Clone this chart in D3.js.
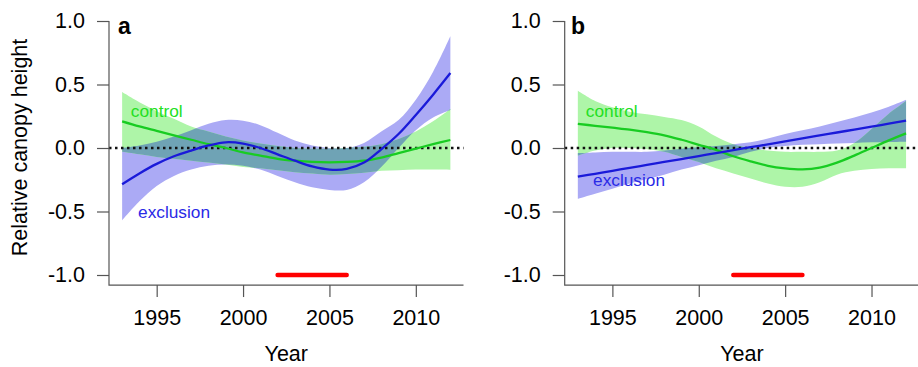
<!DOCTYPE html>
<html><head><meta charset="utf-8">
<script src="https://cdn.jsdelivr.net/npm/d3@7/dist/d3.min.js"></script>
<style>
body{margin:0;background:#fff}
svg{display:block}
text{font-family:"Liberation Sans",Arial,Helvetica,sans-serif}
</style>
</head><body>
<svg id="chart" width="918" height="367"></svg>
<script>
// ---------- data ----------
const years = [1993,1994,1995,1996,1997,1998,1999,2000,2001,2002,2003,2004,2005,2006,2007,2008,2009,2010,2011,2012];

// panel a
const aControl      = [0.21,0.17,0.135,0.10,0.065,0.03,0.0,-0.035,-0.06,-0.085,-0.10,-0.11,-0.113,-0.11,-0.10,-0.075,-0.04,-0.005,0.03,0.063];
const aControlUpper = [0.44,0.36,0.29,0.23,0.17,0.13,0.09,0.06,0.035,0.015,0.0,-0.005,-0.005,0.0,0.01,0.03,0.07,0.13,0.21,0.307];
const aControlLower = [-0.03,-0.05,-0.07,-0.085,-0.10,-0.115,-0.13,-0.15,-0.16,-0.175,-0.19,-0.2,-0.21,-0.205,-0.195,-0.18,-0.175,-0.17,-0.17,-0.173];
const aExcl         = [-0.285,-0.20,-0.125,-0.065,-0.02,0.02,0.045,0.035,0.0,-0.05,-0.10,-0.145,-0.17,-0.165,-0.115,-0.01,0.11,0.26,0.42,0.59];
const aExclUpper    = [0.0,0.02,0.05,0.09,0.14,0.19,0.22,0.215,0.18,0.12,0.06,0.02,0.0,0.0,0.04,0.13,0.22,0.38,0.6,0.88];
const aExclLower    = [-0.57,-0.42,-0.30,-0.22,-0.17,-0.14,-0.13,-0.14,-0.17,-0.22,-0.27,-0.31,-0.33,-0.33,-0.27,-0.15,0.0,0.14,0.24,0.30];

// panel b
const bControl      = [0.19,0.175,0.16,0.145,0.125,0.10,0.065,0.025,-0.015,-0.065,-0.105,-0.14,-0.16,-0.168,-0.155,-0.115,-0.06,0.0,0.06,0.115];
const bControlUpper = [0.45,0.37,0.32,0.285,0.265,0.245,0.22,0.17,0.09,0.03,0.0,-0.02,-0.03,-0.03,-0.03,-0.02,0.04,0.15,0.27,0.37];
const bControlLower = [-0.06,-0.02,0.0,0.0,-0.01,-0.03,-0.07,-0.11,-0.16,-0.2,-0.24,-0.28,-0.305,-0.305,-0.27,-0.21,-0.18,-0.165,-0.16,-0.16];
const bExcl         = [-0.226,-0.203,-0.18,-0.156,-0.133,-0.11,-0.087,-0.064,-0.04,-0.017,0.006,0.029,0.052,0.076,0.099,0.122,0.145,0.168,0.192,0.215];
const bExclUpper    = [-0.04,-0.035,-0.03,-0.03,-0.03,-0.02,-0.005,0.005,0.015,0.03,0.045,0.075,0.11,0.14,0.17,0.205,0.24,0.28,0.325,0.38];
const bExclLower    = [-0.40,-0.36,-0.32,-0.28,-0.245,-0.21,-0.17,-0.135,-0.10,-0.07,-0.03,0.0,0.015,0.025,0.03,0.035,0.04,0.045,0.048,0.05];

const yTicks = [-1.0,-0.5,0.0,0.5,1.0];
const xTicks = [1995,2000,2005,2010];
const treatmentPeriod = [2002, 2006];
const panelLabels = ["a","b"];
const seriesNames = ["control","exclusion"];

// ---------- drawing ----------
const svg = d3.select("#chart");
const C = {
  greenLine:"#18cc22", greenText:"#22e022", greenBand:"#aef5a8",
  blueLine:"#1a1ad9", blueText:"#2a2ae6", blueBand:"#abaaf5",
  overlap:"#6fa3b5", axis:"#555"
};
const FONT = 21.5;

const panels = [
  {label:panelLabels[0], x0:109, x1:463.5,
   ctl:aControl, ctlU:aControlUpper, ctlL:aControlLower,
   exc:aExcl, excU:aExclUpper, excL:aExclLower,
   ctlLab:[1993.5,0.244], excLab:[1993.92,-0.551], labX:118},
  {label:panelLabels[1], x0:564.7, x1:919.2,
   ctl:bControl, ctlU:bControlUpper, ctlL:bControlLower,
   exc:bExcl, excU:bExclUpper, excL:bExclLower,
   ctlLab:[1993.46,0.244], excLab:[1993.88,-0.30], labX:571}
];

const y = d3.scaleLinear().domain([-1,1]).range([275,21]);
const yBottom = y(-1.079);

panels.forEach((p,pi)=>{
  const x = d3.scaleLinear().domain([1992.24,2012.76]).range([p.x0,p.x1]);
  const g = svg.append("g");
  const area = (U,L)=>d3.area().x((d,i)=>x(years[i])).y0((d,i)=>y(L[i])).y1((d,i)=>y(U[i])).curve(d3.curveCatmullRom)(years);
  const line = (V)=>d3.line().x((d,i)=>x(years[i])).y((d,i)=>y(V[i])).curve(d3.curveCatmullRom)(years);

  const clipId = "clipG"+pi;
  svg.append("clipPath").attr("id",clipId).append("path").attr("d",area(p.ctlU,p.ctlL));

  g.append("path").attr("d",area(p.excU,p.excL)).attr("fill",C.blueBand);
  g.append("path").attr("d",area(p.ctlU,p.ctlL)).attr("fill",C.greenBand);
  g.append("path").attr("d",area(p.excU,p.excL)).attr("fill",C.overlap).attr("clip-path",`url(#${clipId})`);

  // zero line
  g.append("line").attr("x1",p.x0).attr("x2",p.x1).attr("y1",y(0)).attr("y2",y(0))
    .attr("stroke","#111").attr("stroke-width",2.5).attr("stroke-dasharray","2.5,3.5");

  g.append("path").attr("d",line(p.ctl)).attr("fill","none").attr("stroke",C.greenLine).attr("stroke-width",2.3);
  g.append("path").attr("d",line(p.exc)).attr("fill","none").attr("stroke",C.blueLine).attr("stroke-width",2.3);

  // treatment bar
  g.append("line").attr("x1",x(treatmentPeriod[0])).attr("x2",x(treatmentPeriod[1]))
    .attr("y1",y(-1)).attr("y2",y(-1)).attr("stroke","#ff0000").attr("stroke-width",4.5).attr("stroke-linecap","round");

  // axes (L box)
  g.append("path").attr("d",`M${p.x0},${y(1)}V${yBottom}H${p.x1}`).attr("fill","none").attr("stroke",C.axis).attr("stroke-width",1.2);

  const ya = g.append("g").attr("transform",`translate(${p.x0},0)`)
    .call(d3.axisLeft(y).tickValues(yTicks).tickSize(12).tickPadding(12).tickFormat(d=>d.toFixed(1)));
  const xa = g.append("g").attr("transform",`translate(0,${yBottom})`)
    .call(d3.axisBottom(x).tickValues(xTicks).tickSize(12).tickPadding(13).tickFormat(d=>String(d)));
  [ya,xa].forEach(a=>{
    a.select(".domain").remove();
    a.selectAll("line").attr("stroke",C.axis).attr("stroke-width",1.2);
    a.selectAll("text").attr("fill","#000").style("font-size",FONT+"px").style("font-family",'"Liberation Sans",Arial,sans-serif');
  });

  // x title
  g.append("text").attr("x",(p.x0+p.x1)/2).attr("y",361).attr("text-anchor","middle")
    .style("font-size",FONT+"px").text("Year");

  // panel label
  g.append("text").attr("x",p.labX).attr("y",34).style("font-size","23px").style("font-weight","bold").text(p.label);

  // series labels
  g.append("text").attr("x",x(p.ctlLab[0])).attr("y",y(p.ctlLab[1])).attr("fill",C.greenText)
    .style("font-size","17.3px").text(seriesNames[0]);
  g.append("text").attr("x",x(p.excLab[0])).attr("y",y(p.excLab[1])).attr("fill",C.blueText)
    .style("font-size","17.3px").text(seriesNames[1]);
});

// y title
svg.append("text").attr("transform","translate(27,147.5) rotate(-90)").attr("text-anchor","middle")
  .style("font-size",FONT+"px").text("Relative canopy height");
</script>
</body></html>
